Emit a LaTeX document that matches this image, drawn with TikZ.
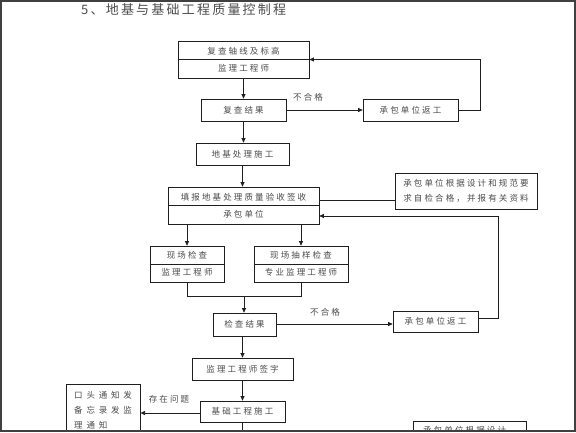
\documentclass[tikz,border=0pt]{standalone}
\usepackage{fontspec}
\newfontfamily\cjkbox[LetterSpace=25]{Noto Sans CJK SC}
\newfontfamily\cjkwide[LetterSpace=45]{Noto Sans CJK SC}
\newfontfamily\cjktitle[LetterSpace=17]{Noto Sans CJK SC}
\usetikzlibrary{arrows.meta,calc}
\definecolor{linec}{gray}{0.12}
\definecolor{textc}{gray}{0.3}
\definecolor{framec}{gray}{0.25}
\begin{document}
\begin{tikzpicture}[x=1pt,y=-1pt,
  box/.style={draw=linec, line width=0.7pt, inner sep=0pt, text=textc,
    font=\cjkbox\fontsize{8.5pt}{15pt}\selectfont, align=center},
  lbl/.style={inner sep=0pt, text=textc, font=\cjkbox\fontsize{8.5pt}{15pt}\selectfont},
  conn/.style={draw=linec, line width=0.7pt},
  arr/.style={conn, -{Triangle[length=4.5pt,width=4pt]}}]
\useasboundingbox (0,0) rectangle (576,432);
\fill[white] (0,0) rectangle (576,432);
\begin{scope}
\clip (1.5,1.5) rectangle (574,429.8);
% title
\node[inner sep=0pt, anchor=base west, text=textc, font=\cjktitle\fontsize{13pt}{15pt}\selectfont] (title) at (81,14.1) {5、地基与基础工程质量控制程};
% boxes
\node[box, minimum width=131pt, minimum height=37pt] (b1) at (243.5,59.5) {};
\draw[conn] (b1.west) -- (b1.east);
\node[lbl] (b1a) at (243.5,51) {复查轴线及标高};
\node[lbl] (b1b) at (243.5,68) {监理工程师};
\node[box, minimum width=85pt, minimum height=22pt] (b2) at (243.5,110) {复查结果};
\node[box, minimum width=95pt, minimum height=22pt] (b3) at (410.5,110) {承包单位返工};
\node[box, minimum width=93pt, minimum height=22pt] (b4) at (242.5,154) {地基处理施工};
\node[box, minimum width=151pt, minimum height=37pt] (b5) at (243.5,205.5) {};
\draw[conn] (b5.west) -- (b5.east);
\node[lbl] (b5a) at (243.5,197.5) {填报地基处理质量验收签收};
\node[lbl] (b5b) at (243.5,214.5) {承包单位};
\node[box, minimum width=142pt, minimum height=36pt] (b6) at (466,191) {承包单位根据设计和规范要\\求自检合格，并报有关资料};
\node[box, minimum width=74pt, minimum height=36pt] (b7a) at (187,264) {};
\draw[conn] (b7a.west) -- (b7a.east);
\node[lbl] (b7aa) at (187,255.5) {现场检查};
\node[lbl] (b7ab) at (187,272.5) {监理工程师};
\node[box, minimum width=94pt, minimum height=36pt] (b7b) at (301,264) {};
\draw[conn] (b7b.west) -- (b7b.east);
\node[lbl] (b7ba) at (301,255.5) {现场抽样检查};
\node[lbl] (b7bb) at (301,272.5) {专业监理工程师};
\node[box, minimum width=63pt, minimum height=23pt] (b8) at (244.5,324.5) {检查结果};
\node[box, minimum width=85pt, minimum height=21pt] (rw2) at (435.5,321.5) {承包单位返工};
\node[box, minimum width=101pt, minimum height=22pt] (b9) at (242.5,369) {监理工程师签字};
\node[box, minimum width=85pt, minimum height=21pt] (b10) at (242.5,411.5) {基础工程施工};
\node[box, minimum width=74.3pt, minimum height=65pt] (b11) at (103,416.8) {};
\node[lbl, anchor=base west, align=left, font=\cjkwide\fontsize{8.5pt}{15pt}\selectfont] (b11t) at (74,428.4) {口头通知发\\备忘录发监\\理通知};
\node[box, minimum width=113pt, minimum height=40pt] (b12) at (469.5,441.7) {};
\node[lbl, anchor=base west] (b12t) at (423,433.7) {承包单位根据设计};
% labels
\node[lbl] (ng1) at (308,97) {不合格};
\node[lbl] (ng2) at (325,312) {不合格};
\node[lbl] (wt) at (169,399) {存在问题};
% connectors
\draw[arr] (b1.south) -- (b1.south |- b2.north);
\draw[arr] (b2.east) -- (b3.west);
\draw[arr] (b3.east) -- ++(21.5,0) |- (b1.east);
\draw[arr] (b2.south) -- (b2.south |- b4.north);
\draw[arr] (b4.south) -- (b4.south |- b5.north);
\coordinate (j6) at (0,200.7);
\draw[conn] (b6.west |- j6) -- (b5.east |- j6);
\coordinate (r2) at (498,216);
\coordinate (r2b) at (0,318.5);
\draw[arr] (rw2.east |- r2b) -| (r2) -- (r2 -| b5.east);
\draw[arr] (b7a.north |- b5.south) -- (b7a.north);
\draw[arr] (b7b.north |- b5.south) -- (b7b.north);
\coordinate (m) at (244,296.7);
\draw[conn] (b7a.south) |- (m) -| (b7b.south);
\draw[arr] (m) -- (m |- b8.north);
\coordinate (c8) at (0,324);
\draw[arr] (b8.east |- c8) -- (rw2.west |- c8);
\draw[arr] (b9.north |- b8.south) -- (b9.north);
\draw[arr] (b9.south) -- (b9.south |- b10.north);
\draw[conn] (b10.south) -- ++(0,20);
\coordinate (c10) at (0,413);
\draw[arr] (b10.west |- c10) -- (b11.east |- c10);
\end{scope}
\draw[framec, line width=1.6pt] (0.8,0.8) rectangle (575,430.8);
\end{tikzpicture}
\end{document}
